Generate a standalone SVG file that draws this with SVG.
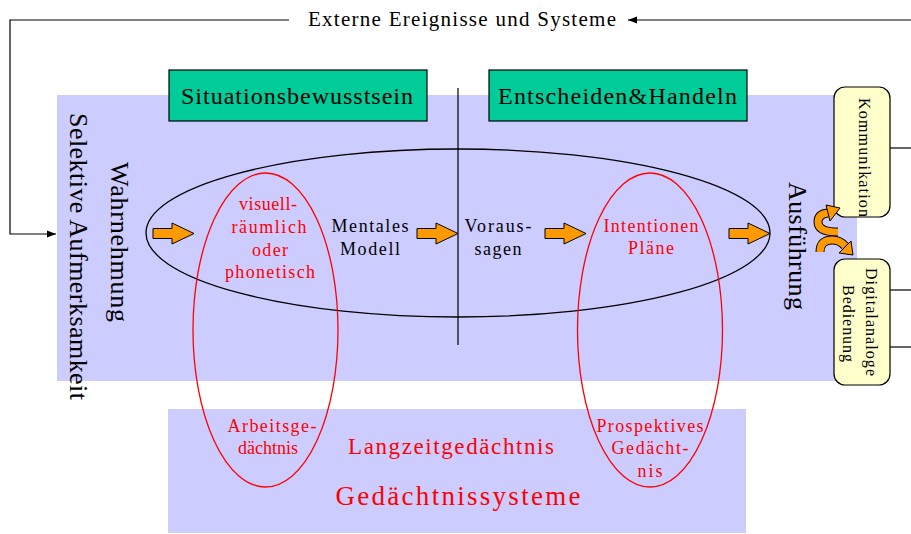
<svg xmlns="http://www.w3.org/2000/svg" xmlns:xlink="http://www.w3.org/1999/xlink" width="911" height="534" viewBox="0 0 911 534">
<style>
text{font-family:"Liberation Serif","Times New Roman",serif;}
.blk{fill:#000;}
.red{fill:#FF0000;}
.c{text-anchor:middle;}
.s18{font-size:18px;}
.line{stroke:#000;stroke-width:1.2;fill:none;}
.panel{fill:#CCCCFF;}
.green{fill:#00CC99;stroke:#000;stroke-width:1.2;}
.yel{fill:#FFFFCC;stroke:#000;stroke-width:1.2;}
.arr{fill:#FF9900;stroke:#000;stroke-width:1;}
.cb{fill:none;stroke:#000;stroke-width:9;}
.cf{fill:none;stroke:#FF9900;stroke-width:7;}
</style>
<defs>
<marker id="ah" viewBox="0 0 10 10" refX="10" refY="5" markerWidth="9" markerHeight="9" markerUnits="userSpaceOnUse" orient="auto">
<path d="M0,1 L10,5 L0,9 Z" fill="#000"/>
</marker>
<path id="barrow" d="M0,-5 H19 V-10.5 L41,0 L19,10.5 V5 H0 Z"/>
</defs>

<g id="panels">
<rect class="panel" x="57" y="95" width="800" height="286"/>
<rect class="panel" x="168" y="409" width="578" height="124"/>
</g>

<g id="connectors">
<path class="line" d="M289,20 H10 V234 H56" marker-end="url(#ah)"/>
<path class="line" d="M911,20 H628" marker-end="url(#ah)"/>
<line class="line" x1="458" y1="88" x2="458" y2="345"/>
<line class="line" x1="890" y1="148" x2="911" y2="148"/>
<line class="line" x1="890" y1="290" x2="911" y2="290"/>
<line class="line" x1="890" y1="347" x2="911" y2="347"/>
<ellipse cx="458" cy="233" rx="312" ry="84" fill="none" stroke="#000" stroke-width="1.3"/>
<ellipse cx="265.5" cy="330" rx="72.5" ry="157" fill="none" stroke="#FF0000" stroke-width="1.3"/>
<ellipse cx="650" cy="330" rx="72.5" ry="157" fill="none" stroke="#FF0000" stroke-width="1.3"/>
<use xlink:href="#barrow" href="#barrow" class="arr" transform="translate(153,233.5)"/>
<use xlink:href="#barrow" href="#barrow" class="arr" transform="translate(417,233.5)"/>
<use xlink:href="#barrow" href="#barrow" class="arr" transform="translate(545,233.5)"/>
<use xlink:href="#barrow" href="#barrow" class="arr" transform="translate(729,233.5)"/>
</g>

<g id="title-externe">
<text class="blk" x="308" y="26" font-size="21" textLength="308" lengthAdjust="spacing">Externe Ereignisse und Systeme</text>
</g>

<g id="situationsbewusstsein">
<rect class="green" x="169" y="70" width="258" height="51"/>
<text class="blk" x="181" y="104" font-size="24" textLength="232" lengthAdjust="spacing">Situationsbewusstsein</text>
</g>

<g id="entscheiden">
<rect class="green" x="489" y="70" width="258" height="51"/>
<text class="blk" x="498" y="104" font-size="24" textLength="239" lengthAdjust="spacing">Entscheiden&amp;Handeln</text>
</g>

<g id="selektive">
<text class="blk" font-size="26" transform="translate(70,113) rotate(90)" textLength="287" lengthAdjust="spacing">Selektive Aufmerksamkeit</text>
</g>
<g id="wahrnehmung">
<text class="blk" font-size="26" transform="translate(111,162) rotate(90)" textLength="160" lengthAdjust="spacing">Wahrnehmung</text>
</g>
<g id="ausfuehrung">
<text class="blk" font-size="26" transform="translate(789,182) rotate(90)" textLength="128" lengthAdjust="spacing">Ausführung</text>
</g>

<g id="visuell">
<text class="red c s18" x="268" y="210" textLength="58" lengthAdjust="spacing">visuell-</text>
<text class="red c s18" x="269" y="233" textLength="75" lengthAdjust="spacing">räumlich</text>
<text class="red c s18" x="270" y="256" textLength="36" lengthAdjust="spacing">oder</text>
<text class="red c s18" x="270" y="278" textLength="90" lengthAdjust="spacing">phonetisch</text>
</g>

<g id="mentales-modell">
<text class="blk c s18" x="370" y="232" textLength="77" lengthAdjust="spacing">Mentales</text>
<text class="blk c s18" x="370" y="255" textLength="60" lengthAdjust="spacing">Modell</text>
</g>

<g id="voraussagen">
<text class="blk c s18" x="498" y="232" textLength="67" lengthAdjust="spacing">Voraus-</text>
<text class="blk c s18" x="498" y="255" textLength="47" lengthAdjust="spacing">sagen</text>
</g>

<g id="intentionen">
<text class="red c s18" x="651" y="232" textLength="95" lengthAdjust="spacing">Intentionen</text>
<text class="red c s18" x="651" y="254" textLength="46" lengthAdjust="spacing">Pläne</text>
</g>

<g id="arbeitsgedaechtnis">
<text class="red c s18" x="272" y="432" textLength="89" lengthAdjust="spacing">Arbeitsge-</text>
<text class="red c s18" x="268" y="454" textLength="60" lengthAdjust="spacing">dächtnis</text>
</g>

<g id="langzeit">
<text class="red c" x="451" y="454" font-size="23" textLength="206" lengthAdjust="spacing">Langzeitgedächtnis</text>
</g>

<g id="gedaechtnissysteme">
<text class="red c" x="458" y="505" font-size="27" textLength="245" lengthAdjust="spacing">Gedächtnissysteme</text>
</g>

<g id="prospektiv">
<text class="red c s18" x="650" y="432" textLength="107" lengthAdjust="spacing">Prospektives</text>
<text class="red c s18" x="650" y="454" textLength="77" lengthAdjust="spacing">Gedächt-</text>
<text class="red c s18" x="650" y="477" textLength="25" lengthAdjust="spacing">nis</text>
</g>

<g id="kommunikation">
<rect class="yel" x="834" y="87" width="56" height="130" rx="11"/>
<text class="blk" font-size="16" transform="translate(859,98) rotate(90)" textLength="119" lengthAdjust="spacing">Kommunikation</text>
</g>

<g id="digitalanaloge">
<rect class="yel" x="834" y="259" width="56" height="126" rx="11"/>
<text class="blk" font-size="16" transform="translate(866,268) rotate(90)" textLength="108" lengthAdjust="spacing">Digitalanaloge</text>
<text class="blk" font-size="16" transform="translate(843,285) rotate(90)" textLength="77" lengthAdjust="spacing">Bedienung</text>
</g>

<g id="swap-arrows">
<path class="cb" d="M838,232 Q818,232 818,222 Q818,214 828,213"/>
<path class="cf" d="M838,232 Q818,232 818,222 Q818,214 828,213"/>
<polygon class="arr" points="826,205 830,221 840,208"/>
<path class="cb" d="M820,252 Q820,240 832,240 Q840,240 845,246"/>
<path class="cf" d="M820,252 Q820,240 832,240 Q840,240 845,246"/>
<polygon class="arr" points="851,241 839,253 853,255"/>
</g>
</svg>
